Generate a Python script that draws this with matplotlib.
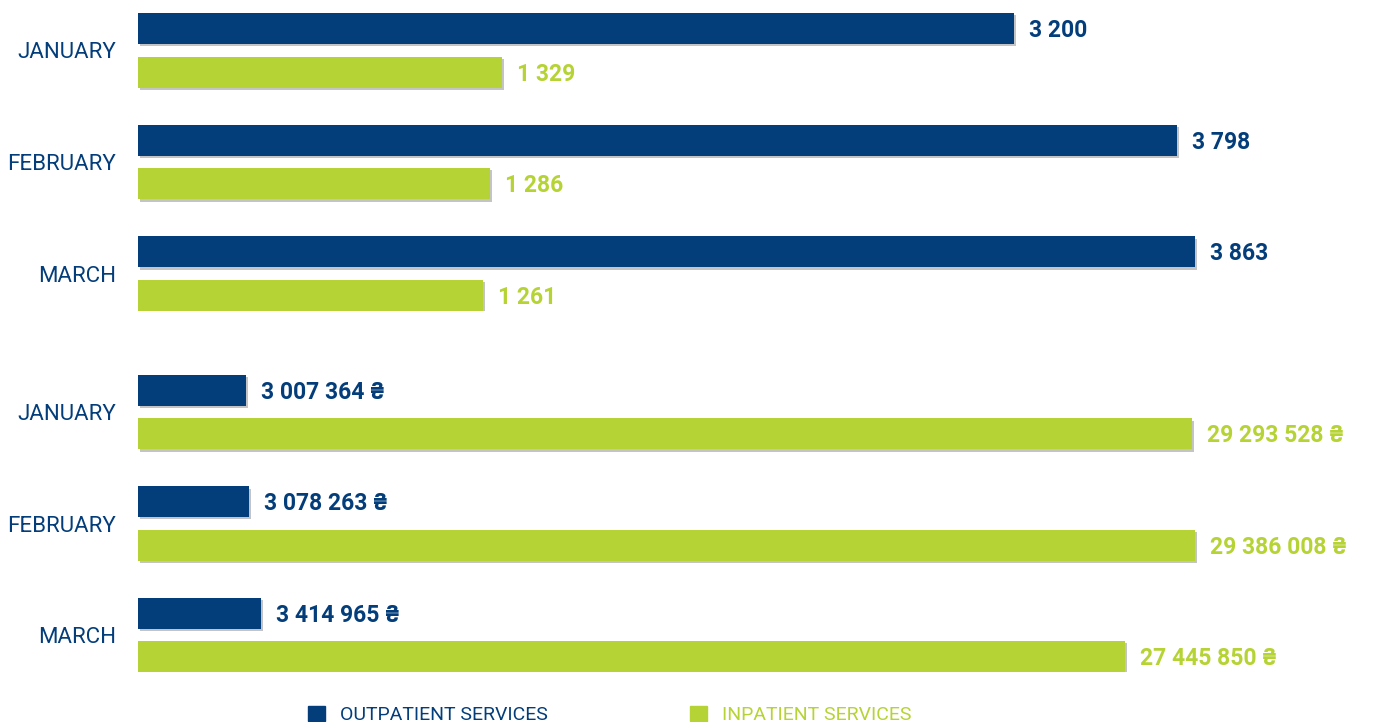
import numpy as np
import matplotlib
matplotlib.use('Agg')
import matplotlib.pyplot as plt
import matplotlib.patheffects as pe
from matplotlib.patches import Patch

plt.rcParams['font.family'] = ['Roboto', 'DejaVu Sans']

months = ['JANUARY', 'FEBRUARY', 'MARCH']

# number of services
out_count = [3200, 3798, 3863]
in_count = [1329, 1286, 1261]

# cost of services, UAH
out_cost = [3007364, 3078263, 3414965]
in_cost = [29293528, 29386008, 27445850]

navy = '#033d7a'
green = '#b5d334'

W, H = 1374, 722
fig = plt.figure(figsize=(W / 100, H / 100), dpi=100)

shadow = [pe.SimplePatchShadow(offset=(1.6, -1.6), shadow_rgbFace='#c4c4c4', alpha=1),
          pe.Normal()]


def fmt(v):
    return f'{v:,}'.replace(',', ' ')


def panel(top_px, bottom_px, outs, ins, xmax, suffix=''):
    ax = fig.add_axes([138 / W, 1 - bottom_px / H, 1 - 138 / W, (bottom_px - top_px) / H])
    y = np.arange(len(months))
    off, h = 0.195, 0.278
    b1 = ax.barh(y - off, outs, height=h, color=navy)
    b2 = ax.barh(y + off, ins, height=h, color=green)
    for b in list(b1) + list(b2):
        b.set_path_effects(shadow)
    for yy, v in zip(y - off, outs):
        ax.annotate(fmt(v) + suffix, (v, yy), xytext=(11, -1.5), textcoords='offset points',
                    va='center', ha='left', color=navy, fontsize=16.5, fontweight='bold')
    for yy, v in zip(y + off, ins):
        ax.annotate(fmt(v) + suffix, (v, yy), xytext=(11, -1.5), textcoords='offset points',
                    va='center', ha='left', color=green, fontsize=16.5, fontweight='bold')
    ax.set_xlim(0, xmax)
    ax.set_ylim(2 + off + h / 2, -off - h / 2)
    ax.set_yticks(y)
    ax.set_yticklabels(months, fontsize=16, color=navy)
    ax.tick_params(axis='y', length=0, pad=16)
    ax.set_xticks([])
    for s in ax.spines.values():
        s.set_visible(False)
    return ax


panel(13, 311, out_count, in_count, 3863 * 1236 / 1057)
panel(375, 672, out_cost, in_cost, 29386008 * 1236 / 1057, suffix=' ₴')

handles = [Patch(color=navy, label='OUTPATIENT SERVICES'),
           Patch(color=green, label='INPATIENT SERVICES')]
leg = fig.legend(handles=handles, loc='center', bbox_to_anchor=(610 / W, 7 / H), ncol=2,
                 frameon=False, fontsize=14, handlelength=0.85, handleheight=0.85,
                 handletextpad=0.8, columnspacing=7.3)
for t, c in zip(leg.get_texts(), [navy, green]):
    t.set_color(c)

fig.savefig('out.png', dpi=100)
